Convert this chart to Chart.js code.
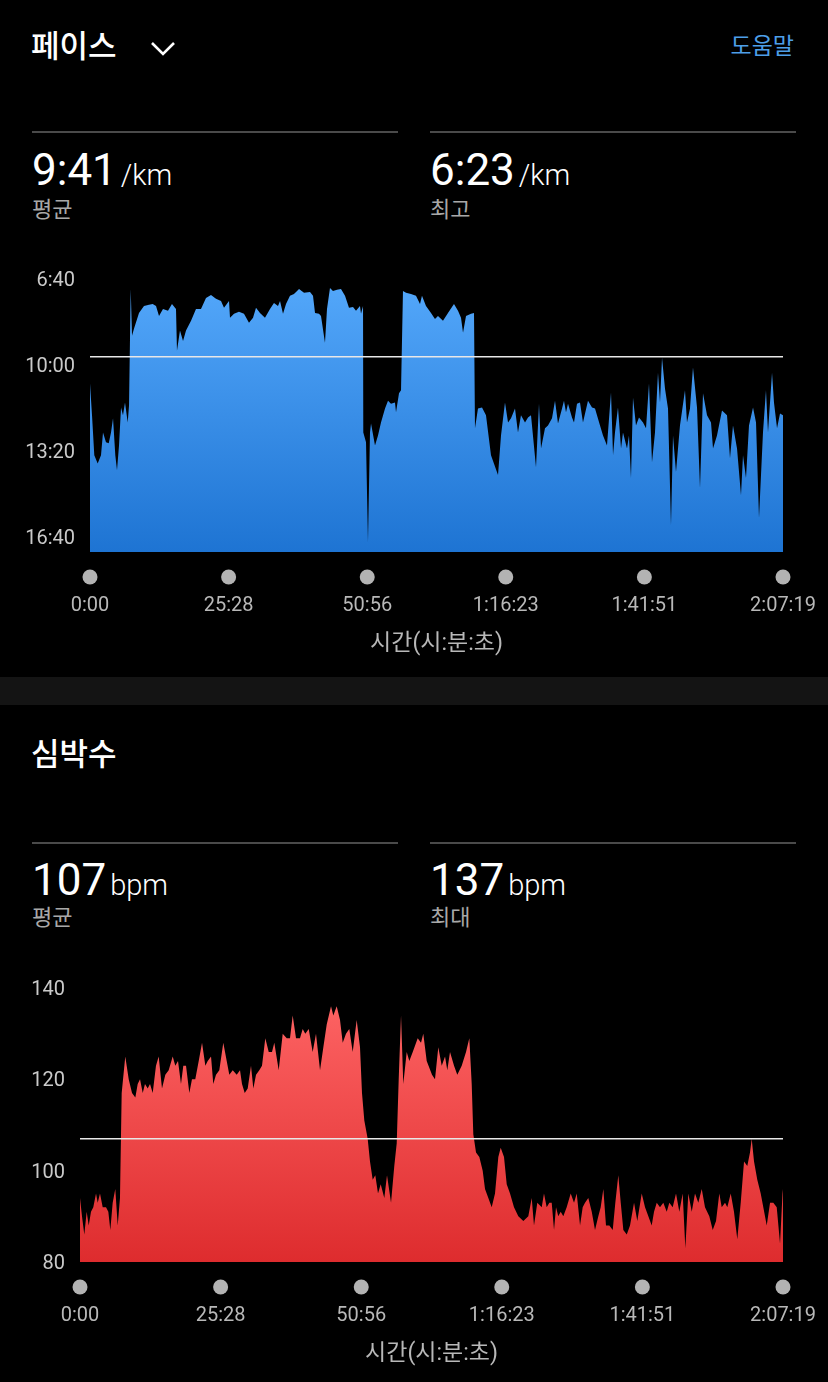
<!doctype html>
<html lang="ko">
<head>
<meta charset="UTF-8">
<title>페이스 / 심박수</title>
<style>
    * { margin: 0; padding: 0; box-sizing: border-box; }
    body {
        width: 828px; height: 1382px; overflow: hidden;
        background: #000; color: #fff;
        font-family: Roboto, 'Noto Sans CJK KR', sans-serif;
        position: relative;
    }
    .abs { position: absolute; white-space: nowrap; }
    .head { font-size: 31px; font-weight: 500; line-height: 40px; }
    .help { font-size: 23px; color: #4d9fe8; line-height: 30px; }
    .rule { height: 2px; background: #4a4a4a; width: 366px; }
    .stat { line-height: 50px; }
    .stat .big { font-size: 44px; }
    .stat .unit { font-size: 29px; font-weight: 300; }
    .sub { font-size: 22px; color: #a8a8a8; line-height: 30px; }
    .band { left: 0; width: 828px; top: 677px; height: 28px; background: #141414; }
    canvas { position: absolute; left: 0; }
</style>
</head>
<body>

<div class="abs head" style="left:31px; top:27px;">페이스</div>
<svg class="abs" style="left:149px; top:40px;" width="28" height="18">
    <polyline points="3,3 14,14 25,3" fill="none" stroke="#fff" stroke-width="2.6"/>
</svg>
<div class="abs help" style="right:34px; top:32px;">도움말</div>

<div class="abs rule" style="left:32px; top:131px;"></div>
<div class="abs rule" style="left:430px; top:131px;"></div>
<div class="abs stat" style="left:32px; top:145px;"><span class="big">9:41</span> <span class="unit">/km</span></div>
<div class="abs stat" style="left:430px; top:145px;"><span class="big">6:23</span> <span class="unit">/km</span></div>
<div class="abs sub" style="left:32px; top:195px;">평균</div>
<div class="abs sub" style="left:430px; top:195px;">최고</div>

<canvas id="paceChart" width="828" height="420" style="top:250px;"></canvas>

<div class="abs band"></div>

<div class="abs head" style="left:31px; top:735px;">심박수</div>
<div class="abs rule" style="left:32px; top:842px;"></div>
<div class="abs rule" style="left:430px; top:842px;"></div>
<div class="abs stat" style="left:32px; top:855px;"><span class="big">107</span> <span class="unit">bpm</span></div>
<div class="abs stat" style="left:430px; top:855px;"><span class="big">137</span> <span class="unit">bpm</span></div>
<div class="abs sub" style="left:32px; top:903px;">평균</div>
<div class="abs sub" style="left:430px; top:903px;">최대</div>

<canvas id="hrChart" width="828" height="420" style="top:960px;"></canvas>

<script src="https://cdn.jsdelivr.net/npm/chart.js"></script>
<script>
    // x axis: elapsed time in minutes
    const timeTicks = [0, 25.467, 50.933, 76.383, 101.85, 127.317];
    const timeTickLabels = ['0:00', '25:28', '50:56', '1:16:23', '1:41:51', '2:07:19'];
    const axisTitle = '시간(시:분:초)';

    // pace, seconds per km
    const paceTicks = [400, 600, 800, 1000];
    const paceTickLabels = ['6:40', '10:00', '13:20', '16:40'];
    const paceAvg = 581;
    const paceTime = [
        0, 0.37, 0.79, 1.41, 2.02, 2.39, 2.94, 3.44, 3.86, 4.23, 4.65, 4.96, 5.33, 5.70, 6.06, 6.43, 6.93, 7.17,
        7.48, 7.72, 8.08, 9.00, 9.92, 10.84, 11.52, 12.13, 12.68, 13.41, 14.33, 15.06, 15.80, 15.98, 16.53, 17.09,
        17.64, 18.56, 19.47, 20.39, 21.31, 22.23, 23.15, 24.07, 24.62, 25.54, 25.72, 26.46, 27.37, 28.29, 29.21,
        29.95, 30.50, 31.23, 32.15, 33.07, 33.80, 34.54, 34.91, 35.46, 36.01, 36.74, 37.48, 38.40, 39.32, 40.42,
        40.97, 41.34, 42.07, 42.44, 43.17, 43.54, 44.09, 44.64, 45.38, 46.11, 46.85, 47.58, 48.32, 48.87, 49.60,
        49.79, 50.16, 50.21, 50.71, 51.07, 51.44, 51.63, 52.36, 52.91, 53.46, 54.20, 54.75, 55.30, 56.03, 56.22,
        56.77, 57.14, 57.50, 58.06, 58.97, 59.89, 60.63, 60.99, 61.73, 62.65, 63.38, 63.93, 64.85, 65.77, 66.87,
        67.61, 68.16, 68.53, 69.08, 70.00, 70.55, 70.73, 71.28, 72.02, 72.75, 73.67, 74.96, 75.51, 76.24, 76.80,
        77.35, 78.08, 78.63, 79.18, 79.92, 80.47, 81.02, 81.94, 82.49, 82.86, 83.59, 84.14, 84.88, 85.43, 85.98,
        86.72, 87.08, 87.45, 87.82, 88.55, 88.92, 89.47, 90.02, 90.57, 91.49, 92.23, 92.78, 93.70, 94.25, 94.98,
        95.72, 96.09, 96.45, 97.00, 97.56, 97.92, 98.66, 99.02, 99.39, 99.76, 100.31, 100.86, 101.60, 102.15,
        102.70, 103.25, 103.80, 104.35, 104.72, 105.09, 105.64, 106.19, 106.74, 107.11, 107.66, 108.39, 109.31,
        109.68, 110.23, 110.78, 111.52, 112.07, 112.62, 113.36, 114.09, 114.46, 115.19, 116.11, 117.03, 117.58,
        118.13, 118.87, 119.60, 119.97, 120.52, 121.07, 121.81, 122.36, 122.91, 123.64, 124.19, 124.56, 125.30,
        125.66, 126.22, 126.77, 127.317
    ];
    const paceValue = [
        643, 717, 810, 829, 810, 757, 780, 782, 757, 724, 810, 845, 787, 699, 717, 687, 734, 694,
        423, 532, 516, 479, 463, 460, 458, 463, 486, 470, 474, 458, 470, 567, 520, 544,
        520, 497, 470, 470, 444, 437, 446, 451, 467, 451, 490, 481, 476, 481, 502,
        490, 467, 479, 490, 470, 456, 463, 451, 481, 458, 439, 435, 423, 432, 430,
        439, 479, 481, 486, 548, 470, 421, 428, 425, 423, 439, 467, 465, 474, 463,
        481, 463, 757, 780, 1012, 757, 736, 787, 764, 734, 701, 683, 690, 687, 710,
        666, 659, 428, 432, 435, 439, 458, 439, 463, 479, 493, 486, 497, 479, 458,
        474, 490, 525, 486, 481, 479, 747, 701, 699, 717, 810, 856, 764, 687, 734,
        724, 701, 757, 717, 734, 722, 717, 838, 690, 794, 747, 741, 724, 683, 736,
        701, 683, 710, 690, 722, 734, 690, 687, 734, 683, 699, 701, 741, 764, 787,
        664, 810, 757, 699, 794, 757, 794, 764, 863, 676, 741, 722, 734, 747,
        643, 826, 757, 618, 687, 583, 655, 701, 972, 764, 849, 741, 659,
        734, 701, 606, 699, 886, 666, 717, 734, 794, 764, 706, 717, 817,
        741, 794, 903, 810, 863, 741, 699, 734, 956, 757, 659, 757, 618,
        687, 747, 713, 717
    ];

    // heart rate, bpm
    const hrTicks = [80, 100, 120, 140];
    const hrAvg = 107;
    const hrTime = [
        0, 0.36, 0.78, 1.21, 1.58, 1.99, 2.41, 2.90, 3.21, 3.62, 4.11, 4.71, 5.13, 5.49, 5.92, 6.39, 6.83, 7.24,
        7.55, 8.20, 8.82, 9.42, 10.02, 10.45, 10.87, 11.36, 11.77, 12.26, 12.68, 13.17, 13.76, 14.25, 14.85,
        15.45, 16.06, 16.79, 17.26, 17.75, 18.29, 18.71, 19.20, 19.80, 20.28, 20.88, 21.50, 22.10, 22.70, 23.13,
        23.73, 24.14, 24.63, 25.23, 25.95, 26.57, 27.04, 27.66, 28.38, 28.98, 29.34, 29.83, 30.37, 30.97, 31.39,
        31.88, 32.47, 32.96, 33.56, 34.18, 34.77, 35.19, 35.99, 36.71, 37.44, 38.03, 38.52, 39.12, 39.84, 40.33,
        40.80, 41.42, 42.14, 42.74, 43.47, 44.07, 44.68, 45.46, 45.88, 46.49, 47.09, 47.58, 48.17, 48.77, 49.39,
        50.11, 50.71, 51.07, 51.49, 52.10, 52.52, 53.01, 53.48, 53.97, 54.46, 55.11, 55.60, 56.33, 56.92, 57.36,
        57.72, 58.14, 58.55, 59.17, 59.64, 60.26, 61.16, 61.76, 62.17, 62.79, 63.75, 64.29, 64.89, 65.51, 66.11,
        66.52, 67.01, 67.74, 68.33, 69.13, 69.91, 70.51, 70.94, 71.23, 71.72, 72.32, 72.93, 73.35, 73.95, 74.56,
        75.16, 75.76, 76.19, 76.79, 77.28, 77.88, 78.60, 79.38, 80.29, 81.19, 81.81, 82.22, 82.82, 83.62, 84.03,
        84.52, 85.00, 85.43, 85.85, 86.21, 86.62, 87.06, 87.53, 88.14, 88.87, 89.47, 89.96, 90.56, 91.04, 91.46,
        92.06, 92.68, 93.27, 93.87, 94.30, 94.78, 95.26, 95.86, 96.48, 96.95, 97.49, 97.93, 98.40, 99.02, 99.61,
        100.34, 100.93, 101.73, 102.33, 102.93, 103.54, 103.96, 104.45, 105.04, 105.64, 106.26, 106.73, 107.34,
        107.94, 108.54, 109.15, 109.63, 110.17, 110.79, 111.38, 111.98, 112.60, 113.19, 113.97, 114.59, 115.19,
        115.78, 116.22, 116.82, 117.23, 117.85, 118.44, 119.04, 119.66, 120.26, 120.85, 121.34, 121.65, 122.07,
        122.66, 123.28, 123.75, 124.37, 124.97, 125.56, 126.18, 126.78, 127.27, 127.317
    ];
    const hrValue = [
        94, 90, 86, 91, 88, 91, 92, 95, 93, 95, 92, 92, 91, 87, 93, 96, 88, 94,
        117, 125, 120, 117, 116, 119, 120, 117, 119, 118, 119, 117, 123, 125, 118,
        121, 122, 125, 123, 124, 119, 123, 123, 117, 120, 120, 124, 128, 123, 124,
        125, 119, 121, 122, 128, 124, 121, 122, 121, 122, 119, 117, 118, 123, 118,
        121, 122, 123, 129, 126, 126, 128, 122, 130, 129, 129, 134, 129, 129, 131,
        130, 131, 126, 130, 122, 127, 132, 136, 134, 136, 133, 128, 130, 131, 126,
        133, 127, 117, 111, 107, 102, 98, 99, 95, 97, 94, 99, 93, 101, 106,
        120, 134, 119, 126, 124, 126, 129, 128, 130, 124, 121, 120, 127, 123, 125,
        122, 126, 123, 121, 123, 126, 129, 119, 108, 104, 103, 100, 96, 94, 92,
        95, 103, 105, 103, 97, 95, 92, 90, 89, 90, 94, 88, 93, 92, 95,
        92, 93, 93, 87, 92, 90, 91, 90, 92, 95, 93, 95, 88, 92, 93,
        94, 91, 87, 90, 92, 96, 88, 88, 87, 93, 99, 93, 87, 86, 88,
        93, 89, 95, 92, 90, 88, 91, 93, 92, 93, 91, 93, 92,
        95, 91, 95, 83, 95, 91, 95, 93, 96, 92, 90, 87, 89,
        95, 92, 93, 92, 95, 91, 85, 93, 102, 101, 104, 107, 102,
        98, 95, 92, 88, 93, 93, 92, 84, 96, 95
    ];

    Chart.defaults.font.family = "Roboto, 'Noto Sans CJK KR', sans-serif";
    Chart.defaults.animation = false;

    // grey dots under the x axis, one per tick
    const tickDots = {
        id: 'tickDots',
        afterDraw(chart) {
            const ctx = chart.ctx;
            const x = chart.scales.x;
            ctx.save();
            ctx.fillStyle = '#b3b3b3';
            x.ticks.forEach(t => {
                ctx.beginPath();
                ctx.arc(x.getPixelForValue(t.value), chart.chartArea.bottom + 25, 7.5, 0, Math.PI * 2);
                ctx.fill();
            });
            ctx.restore();
        }
    };

    function gradient(top, bottom) {
        return function (context) {
            const area = context.chart.chartArea;
            if (!area) return top;
            const g = context.chart.ctx.createLinearGradient(0, area.top, 0, area.bottom);
            g.addColorStop(0, top);
            g.addColorStop(1, bottom);
            return g;
        };
    }

    function makeChart(id, opts) {
        const points = opts.time.map((t, i) => ({x: t, y: opts.values[i]}));
        const last = timeTicks[timeTicks.length - 1];
        return new Chart(document.getElementById(id), {
            type: 'line',
            data: {
                datasets: [{
                    data: [{x: 0, y: opts.avg}, {x: last, y: opts.avg}],
                    borderColor: '#e8e8e8',
                    borderWidth: 1.5,
                    pointRadius: 0,
                    fill: false
                }, {
                    data: points,
                    borderWidth: 0,
                    borderColor: 'rgba(0,0,0,0)',
                    backgroundColor: gradient(opts.top, opts.bottom),
                    pointRadius: 0,
                    tension: 0,
                    fill: 'start'
                }]
            },
            options: {
                responsive: false,
                events: [],
                layout: {padding: {top: opts.padTop, right: 45, left: 0, bottom: 0}},
                plugins: {legend: {display: false}, tooltip: {enabled: false}},
                scales: {
                    x: {
                        type: 'linear',
                        min: 0,
                        max: last,
                        grid: {display: false, drawTicks: false},
                        border: {display: false},
                        afterBuildTicks: s => { s.ticks = timeTicks.map(v => ({value: v})); },
                        afterFit: s => {
                            s.height = 420 - opts.padTop - opts.plotHeight;
                            s.paddingLeft = 0;
                            s.paddingRight = 0;
                        },
                        ticks: {
                            autoSkip: false,
                            maxRotation: 0,
                            padding: 42,
                            color: '#b8b8b8',
                            font: {size: 20},
                            callback: (v, i) => timeTickLabels[i]
                        },
                        title: {
                            display: true,
                            text: axisTitle,
                            color: '#b8b8b8',
                            font: {size: 23},
                            padding: {top: 0, bottom: 12}
                        }
                    },
                    y: {
                        type: 'linear',
                        min: opts.min,
                        max: opts.max,
                        reverse: opts.reverse,
                        grid: {display: false, drawTicks: false},
                        border: {display: false},
                        afterBuildTicks: s => { s.ticks = opts.ticks.map(v => ({value: v})); },
                        afterFit: s => { s.width = opts.yWidth; },
                        ticks: {
                            padding: 15,
                            labelOffset: 2,
                            color: '#cacaca',
                            font: {size: 20},
                            callback: (v, i) => opts.tickLabels[i]
                        }
                    }
                }
            },
            plugins: [tickDots]
        });
    }

    makeChart('paceChart', {
        time: paceTime, values: paceValue, avg: paceAvg,
        min: 400, max: 1035, reverse: true,
        ticks: paceTicks, tickLabels: paceTickLabels, yWidth: 90,
        padTop: 29, plotHeight: 273,
        top: '#54a8fb', bottom: '#1e74d3'
    });

    makeChart('hrChart', {
        time: hrTime, values: hrValue, avg: hrAvg,
        min: 80, max: 140, reverse: false,
        ticks: hrTicks, tickLabels: hrTicks.map(String), yWidth: 80,
        padTop: 28, plotHeight: 274,
        top: '#ff6666', bottom: '#de2c2e'
    });
</script>
</body>
</html>
